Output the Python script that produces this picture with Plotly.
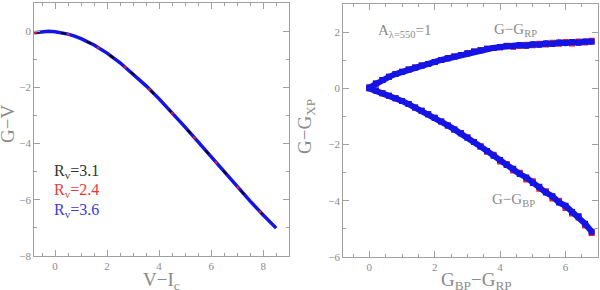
import plotly.graph_objs as go

# left panel: G-V as a function of V-Ic for three Rv values
vi = [-0.8, -0.5, -0.25, 0, 0.25, 0.5, 0.75, 1.0, 1.5, 2.0, 2.5, 3.0, 3.5,
      4.0, 4.5, 5.0, 5.5, 6.0, 6.5, 7.0, 7.5, 8.0, 8.5]
gv_31 = [-0.060, -0.021, -0.013, -0.026, -0.059, -0.111, -0.183, -0.271, -0.499,
         -0.788, -1.131, -1.521, -1.951, -2.416, -2.908, -3.420, -3.946, -4.479,
         -5.012, -5.538, -6.051, -6.544, -7.010]
gv_24 = [-0.061, -0.022, -0.013, -0.026, -0.060, -0.112, -0.184, -0.273, -0.501,
         -0.791, -1.134, -1.525, -1.955, -2.421, -2.913, -3.425, -3.951, -4.484,
         -5.017, -5.543, -6.055, -6.548, -7.013]
gv_36 = [-0.060, -0.021, -0.012, -0.025, -0.058, -0.110, -0.182, -0.270, -0.497,
         -0.786, -1.128, -1.518, -1.948, -2.412, -2.904, -3.416, -3.942, -4.475,
         -5.008, -5.534, -6.047, -6.541, -7.007]

# right panel: G-G_RP and G-G_BP against G_BP-G_RP
bprp = [0, 0.2, 0.4, 0.6, 0.8, 1.0, 1.2, 1.4, 1.6, 1.8, 2.0, 2.2, 2.4, 2.6, 2.8,
        3.0, 3.2, 3.4, 3.6, 3.8, 4.0, 4.2, 4.4, 4.6, 4.8, 5.0, 5.2, 5.4, 5.6,
        5.8, 6.0, 6.2, 6.4, 6.6, 6.8]
grp_blue = [0.03, 0.17, 0.30, 0.41, 0.51, 0.59, 0.67, 0.74, 0.81, 0.87, 0.94,
            1.01, 1.07, 1.13, 1.19, 1.25, 1.31, 1.36, 1.41, 1.44, 1.47, 1.50,
            1.50, 1.54, 1.52, 1.57, 1.55, 1.60, 1.58, 1.63, 1.61, 1.65, 1.62,
            1.67, 1.66]
grp_red = [0.03, 0.17, 0.30, 0.41, 0.51, 0.59, 0.67, 0.74, 0.81, 0.87, 0.94,
           1.01, 1.07, 1.13, 1.19, 1.25, 1.31, 1.36, 1.41, 1.44, 1.45, 1.52,
           1.48, 1.51, 1.55, 1.53, 1.59, 1.56, 1.62, 1.59, 1.65, 1.60, 1.67,
           1.63, 1.69]
gbp_blue = [0, -0.08, -0.17, -0.26, -0.35, -0.45, -0.56, -0.68, -0.80, -0.92,
            -1.05, -1.18, -1.32, -1.46, -1.60, -1.75, -1.91, -2.07, -2.23, -2.40,
            -2.55, -2.73, -2.86, -3.05, -3.17, -3.37, -3.50, -3.71, -3.84, -4.06,
            -4.18, -4.40, -4.55, -4.82, -5.10]
gbp_red = [0, -0.08, -0.17, -0.26, -0.35, -0.45, -0.56, -0.68, -0.80, -0.92,
           -1.05, -1.18, -1.32, -1.46, -1.60, -1.75, -1.91, -2.07, -2.26, -2.36,
           -2.60, -2.69, -2.92, -3.00, -3.24, -3.31, -3.57, -3.66, -3.92, -4.00,
           -4.26, -4.45, -4.60, -4.88, -5.15]

GREY = "#8a8a8a"
FONT = "Liberation Serif"
BLUE = "#1414e6"
RED = "#e62020"

fig = go.Figure()

# left panel lines
fig.add_trace(go.Scatter(x=vi, y=gv_36, mode="lines", line=dict(color=BLUE, width=3.5),
                         xaxis="x", yaxis="y"))
fig.add_trace(go.Scatter(x=vi, y=gv_31, mode="lines",
                         line=dict(color="black", width=2, dash="5px,22px"),
                         xaxis="x", yaxis="y"))
fig.add_trace(go.Scatter(x=vi, y=gv_24, mode="lines",
                         line=dict(color=RED, width=2, dash="3px,30px"),
                         xaxis="x", yaxis="y"))

# right panel points
mk = dict(symbol="square", size=6, line=dict(width=0))
fig.add_trace(go.Scatter(x=bprp, y=grp_red, mode="markers", marker=dict(color=RED, **mk),
                         xaxis="x2", yaxis="y2"))
fig.add_trace(go.Scatter(x=bprp, y=gbp_red, mode="markers", marker=dict(color=RED, **mk),
                         xaxis="x2", yaxis="y2"))
fig.add_trace(go.Scatter(x=bprp, y=grp_blue, mode="lines+markers",
                         line=dict(color=BLUE, width=6), marker=dict(color=BLUE, **mk),
                         xaxis="x2", yaxis="y2"))
fig.add_trace(go.Scatter(x=bprp, y=gbp_blue, mode="lines+markers",
                         line=dict(color=BLUE, width=6), marker=dict(color=BLUE, **mk),
                         xaxis="x2", yaxis="y2"))

axis_common = dict(
    showgrid=False, zeroline=False, showline=True, linecolor="#a0a0a0", linewidth=1,
    mirror="allticks", ticks="inside", ticklen=6, tickcolor="#a0a0a0",
    tickfont=dict(family=FONT, size=11, color=GREY),
    automargin=False,
)
minor_x = dict(dtick=0.5, ticks="inside", ticklen=3, tickcolor="#a0a0a0")
minor_y = dict(dtick=1, ticks="inside", ticklen=3, tickcolor="#a0a0a0")

fig.update_layout(
    width=600, height=290,
    margin=dict(l=0, r=0, t=0, b=0),
    paper_bgcolor="white", plot_bgcolor="white",
    showlegend=False,
    xaxis=dict(domain=[0.057, 0.482], range=[-0.8, 9], dtick=2, tick0=0,
               minor=minor_x, anchor="y", **axis_common),
    yaxis=dict(domain=[0.117, 0.99], range=[-8, 1], dtick=2, tick0=0,
               minor=minor_y, anchor="x", **axis_common),
    xaxis2=dict(domain=[0.572, 0.997], range=[-0.8, 7], dtick=2, tick0=0,
                minor=minor_x, anchor="y2", **axis_common),
    yaxis2=dict(domain=[0.114, 0.986], range=[-6, 3], dtick=2, tick0=0,
                minor=minor_y, anchor="x2", **axis_common),
)

# axis titles placed as paper annotations (margins are zero)
title_font = dict(family=FONT, size=19, color=GREY)
fig.add_annotation(x=161 / 600, y=0.078, xref="paper", yref="paper", text="V−I<sub>c</sub>",
                   showarrow=False, xanchor="center", yanchor="top", font=title_font)
fig.add_annotation(x=476 / 600, y=0.078, xref="paper", yref="paper",
                   text="G<sub>BP</sub>−G<sub>RP</sub>",
                   showarrow=False, xanchor="center", yanchor="top", font=title_font)
fig.add_annotation(x=8 / 600, y=1 - 124 / 290, xref="paper", yref="paper", text="G−V",
                   textangle=-90, showarrow=False, xanchor="center", yanchor="middle",
                   font=title_font)
fig.add_annotation(x=306 / 600, y=1 - 127 / 290, xref="paper", yref="paper",
                   text="G−G<sub>XP</sub>", textangle=-90, showarrow=False,
                   xanchor="center", yanchor="middle", font=title_font)

labels = [
    ("R<sub>v</sub>=3.1", "#333333", -5.0),
    ("R<sub>v</sub>=2.4", "#e83a3a", -5.68),
    ("R<sub>v</sub>=3.6", "#3a3ae0", -6.39),
]
for text, col, yy in labels:
    fig.add_annotation(x=-0.1, y=yy, xref="x", yref="y", text=text, showarrow=False,
                       xanchor="left", font=dict(family=FONT, size=16, color=col))

fig.add_annotation(x=0.2, y=2.05, xref="x2", yref="y2", text="A<sub>λ=550</sub>=1",
                   showarrow=False, xanchor="left",
                   font=dict(family=FONT, size=15, color=GREY))
fig.add_annotation(x=3.75, y=2.09, xref="x2", yref="y2", text="G−G<sub>RP</sub>",
                   showarrow=False, xanchor="left",
                   font=dict(family=FONT, size=15, color=GREY))
fig.add_annotation(x=3.7, y=-3.97, xref="x2", yref="y2", text="G−G<sub>BP</sub>",
                   showarrow=False, xanchor="left",
                   font=dict(family=FONT, size=15, color=GREY))

# drop the default page margin so the figure sits at the window corner
fig.write_html("out.html", config={"displayModeBar": False},
               post_script="document.body.style.margin='0';")
